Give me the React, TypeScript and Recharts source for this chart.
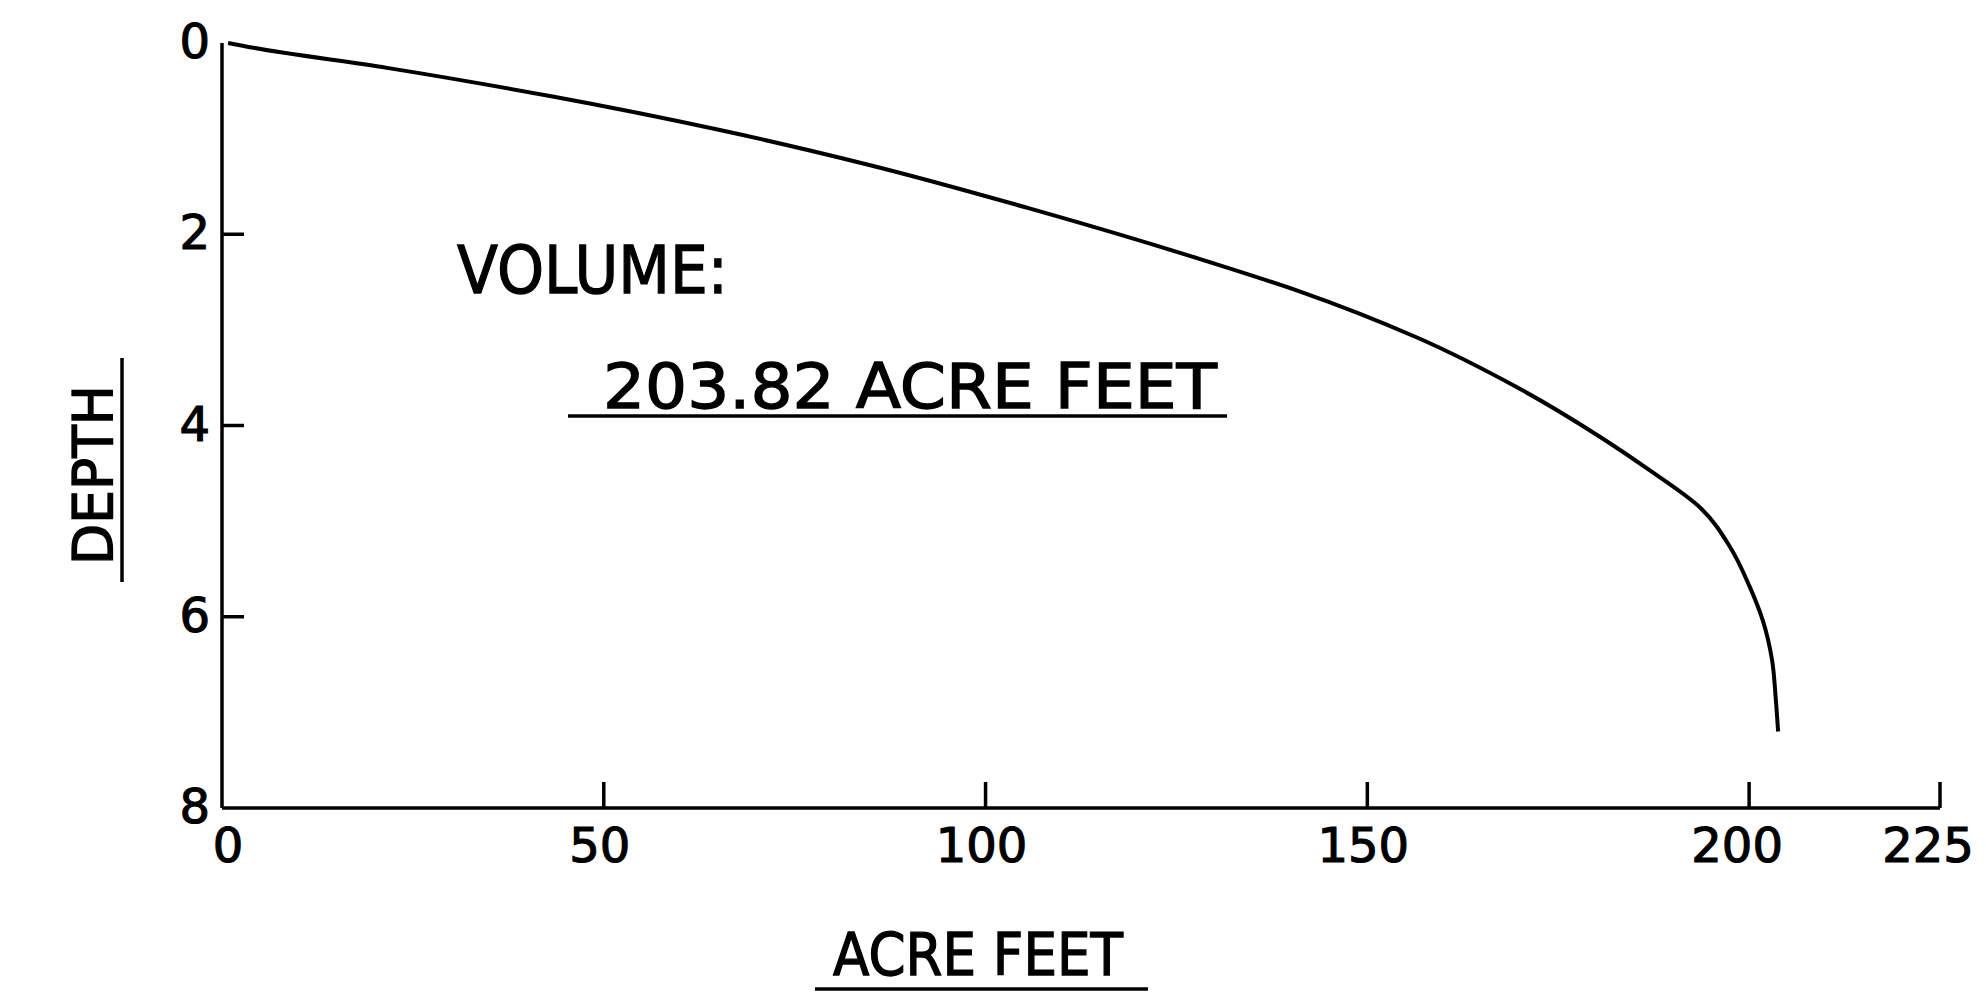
import React from "react";
import { LineChart, Line, XAxis, YAxis } from "recharts";

// depth-capacity curve
const acreFeet = [0.8, 4.1, 21.6, 43.3, 65.2, 84.5, 106.2, 128.1, 141.2, 156.5, 169.6, 180.5, 187.0, 193.6, 197.5, 200.1, 201.8, 203.0, 203.5, 203.8];
const depth = [0, 0.05, 0.26, 0.56, 0.91, 1.27, 1.74, 2.26, 2.6, 3.08, 3.6, 4.12, 4.47, 4.86, 5.27, 5.69, 6.04, 6.45, 6.87, 7.2];

const xTicks = [0, 50, 100, 150, 200, 225];
const yTicks = [0, 2, 4, 6, 8];
const xTickMarks = [50, 100, 150, 200, 225];
const yTickMarks = [2, 4, 6];

const volumeLabel = "VOLUME:";
const volumeValue = "203.82 ACRE FEET";
const xTitle = "ACRE FEET";
const yTitle = "DEPTH";

const data = acreFeet.map((a, i) => ({ acre: a, depth: depth[i] }));

const INK = "#000";
const FONT = "'DejaVu Sans', 'Liberation Sans', sans-serif";
const Y_MARGIN = 8;
const X_MARGIN = 17;

function YTick(props: any) {
  const { x, y, payload } = props;
  const axisX = x + Y_MARGIN;
  return (
    <g>
      {yTickMarks.includes(payload.value) && (
        <line x1={axisX} y1={y} x2={axisX + 22} y2={y} stroke={INK} strokeWidth={3.5} />
      )}
      <text
        x={x - 4}
        y={y - 2}
        textAnchor="end"
        dominantBaseline="central"
        fontSize={48}
        fontFamily={FONT}
        fill={INK}
        stroke={INK}
        strokeWidth={1.2}
      >
        {payload.value}
      </text>
    </g>
  );
}

function XTick(props: any) {
  const { x, y, payload } = props;
  const axisY = y - X_MARGIN;
  const dx = payload.value === 0 ? 6 : payload.value >= 200 ? -12 : -4;
  return (
    <g>
      {xTickMarks.includes(payload.value) && (
        <line x1={x} y1={axisY} x2={x} y2={axisY - 26} stroke={INK} strokeWidth={3.5} />
      )}
      <text
        x={x + dx}
        y={y + 37}
        textAnchor="middle"
        fontSize={48}
        fontFamily={FONT}
        fill={INK}
        stroke={INK}
        strokeWidth={1.2}
      >
        {payload.value}
      </text>
    </g>
  );
}

export default function App() {
  return (
    <div style={{ position: "absolute", left: 0, top: 0, width: 1986, height: 999, background: "#fff" }}>
      <LineChart
        width={1986}
        height={999}
        layout="vertical"
        data={data}
        margin={{ top: 43, right: 46, left: 162, bottom: 131 }}
      >
        <XAxis
          type="number"
          dataKey="acre"
          domain={[0, 225]}
          ticks={xTicks}
          interval={0}
          height={60}
          tickSize={0}
          tickMargin={X_MARGIN}
          tickLine={false}
          axisLine={{ stroke: INK, strokeWidth: 3.5 }}
          tick={<XTick />}
          allowDataOverflow
        />
        <YAxis
          type="number"
          dataKey="depth"
          domain={[0, 8]}
          ticks={yTicks}
          interval={0}
          width={60}
          tickSize={0}
          tickMargin={Y_MARGIN}
          tickLine={false}
          axisLine={{ stroke: INK, strokeWidth: 3.5 }}
          tick={<YTick />}
        />
        <Line
          type="monotone"
          dataKey="acre"
          stroke={INK}
          strokeWidth={4}
          dot={false}
          isAnimationActive={false}
        />
      </LineChart>
      <svg width={1986} height={999} style={{ position: "absolute", left: 0, top: 0, pointerEvents: "none" }}>
        <g fontFamily={FONT} fill={INK} stroke={INK} strokeWidth={1.3}>
          <text x={457} y={293} fontSize={66} textLength={271} lengthAdjust="spacingAndGlyphs">
            {volumeLabel}
          </text>
          <text x={603} y={408} fontSize={63} textLength={614} lengthAdjust="spacingAndGlyphs">
            {volumeValue}
          </text>
          <text x={833} y={975} fontSize={58} textLength={290} lengthAdjust="spacingAndGlyphs">
            {xTitle}
          </text>
          <text
            transform="translate(112,475) rotate(-90)"
            x={0}
            y={0}
            textAnchor="middle"
            fontSize={55}
            textLength={180}
            lengthAdjust="spacingAndGlyphs"
          >
            {yTitle}
          </text>
        </g>
        <line x1={568} y1={416} x2={1227} y2={416} stroke={INK} strokeWidth={3.5} />
        <line x1={815} y1={989} x2={1148} y2={989} stroke={INK} strokeWidth={3.5} />
        <line x1={122} y1={358} x2={122} y2={582} stroke={INK} strokeWidth={3.5} />
      </svg>
    </div>
  );
}
